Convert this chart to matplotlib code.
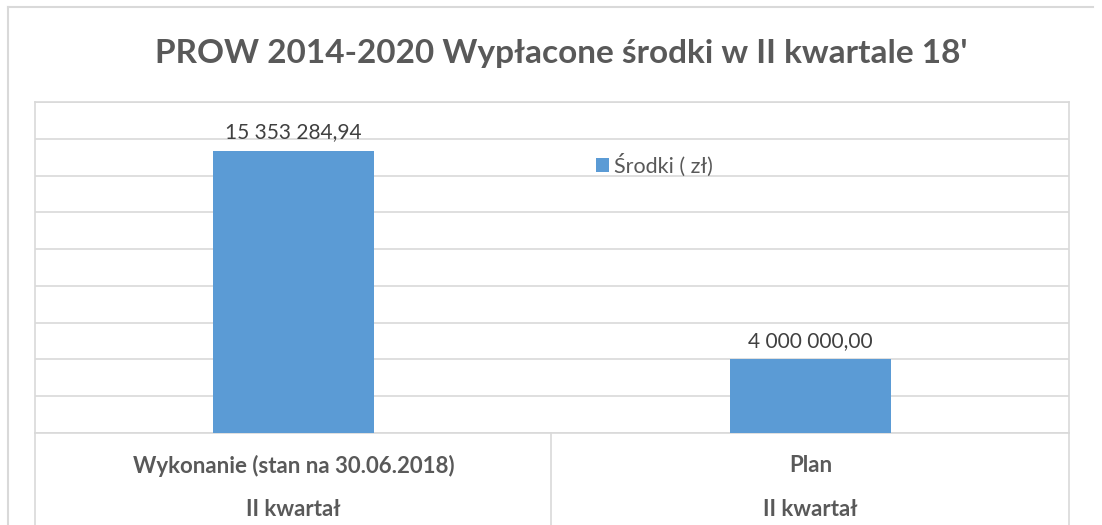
import matplotlib.pyplot as plt
from matplotlib.lines import Line2D

# chart data
categories = ["Wykonanie (stan na 30.06.2018)", "Plan"]
sub_labels = ["II kwartał", "II kwartał"]
values = [15353284.94, 4000000.00]
series_name = "Środki ( zł)"
title = "PROW 2014-2020 Wypłacone środki w II kwartale 18'"

W, H = 1102, 525
grid_col = "#d9d9d9"
bar_col = "#5b9bd5"
txt_col = "#595959"

plt.rcParams['font.family'] = ['Lato', 'DejaVu Sans']


def pl_format(v):
    s = f"{v:,.2f}"
    return s.replace(",", " ").replace(".", ",")


def fx(px):
    return px / W


def fy(py):
    return 1 - py / H


fig = plt.figure(figsize=(W / 100, H / 100), dpi=100)
ax = fig.add_axes([fx(35), fy(433), fx(1069) - fx(35), fy(102) - fy(433)])

x = list(range(len(categories)))
bars = ax.bar(x, values, width=0.313, color=bar_col, label=series_name, zorder=3)

ax.set_xlim(-0.5, len(categories) - 0.5)
ax.set_ylim(0, 18000000)
ax.set_yticks(range(0, 18000001, 2000000))
ax.yaxis.grid(True, color=grid_col, linewidth=1.2, zorder=0)
ax.tick_params(left=False, bottom=False, labelleft=False, labelbottom=False)
for sp in ax.spines.values():
    sp.set_color(grid_col)
    sp.set_linewidth(1.2)

for b, v in zip(bars, values):
    ax.annotate(pl_format(v), (b.get_x() + b.get_width() / 2, v),
                xytext=(0, 6), textcoords="offset points",
                ha="center", va="bottom", fontsize=15, color="#404040")

# category table below the plot
for xp in [35, 551, 1069]:
    fig.add_artist(Line2D([fx(xp), fx(xp)], [fy(433), fy(525)], color=grid_col, lw=1.2))
trans = ax.get_xaxis_transform()
for i, (c, s) in enumerate(zip(categories, sub_labels)):
    ax.text(i, (fy(466) - fy(433)) / (fy(102) - fy(433)), c, transform=trans,
            ha="center", va="center", fontsize=16, fontweight="bold", color=txt_col, clip_on=False)
    ax.text(i, (fy(510) - fy(433)) / (fy(102) - fy(433)), s, transform=trans,
            ha="center", va="center", fontsize=16, fontweight="bold", color=txt_col, clip_on=False)

# outer chart border
fig.add_artist(Line2D([fx(8), fx(1093)], [fy(7), fy(7)], color=grid_col, lw=1.5))
fig.add_artist(Line2D([fx(8), fx(8)], [fy(7), fy(525)], color=grid_col, lw=1.5))

fig.text(fx(561), fy(54), title, ha="center", va="center", fontsize=24,
         fontweight="bold", color=txt_col)

ax.legend(loc="center left", bbox_to_anchor=(fx(596), fy(165)), bbox_transform=fig.transFigure,
          frameon=False, fontsize=15.5, labelcolor=txt_col, handlelength=0.6, handleheight=0.6,
          handletextpad=0.25, borderpad=0, borderaxespad=0)

fig.savefig("out.png", dpi=100)
